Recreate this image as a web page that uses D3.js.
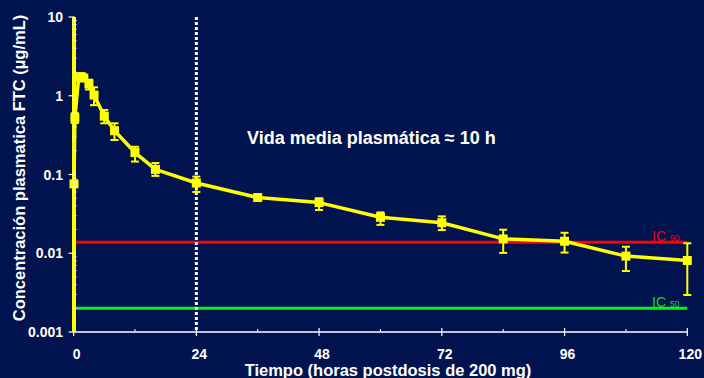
<!DOCTYPE html>
<html>
<head>
<meta charset="utf-8">
<script src="https://cdn.jsdelivr.net/npm/d3@7"></script>
<style>
  html, body { margin: 0; padding: 0; background: #02144f; }
  svg { display: block; font-family: "Liberation Sans", Arial, sans-serif; }
</style>
</head>
<body>
<svg id="chart" width="704" height="378"></svg>
<script>
// Mean FTC plasma concentration after a single 200 mg dose
const times  = [0.08, 0.25, 1, 1.5, 2, 3, 4, 6, 8, 12, 16, 24, 36, 48, 60, 72, 84, 96, 108, 120];
const conc   = [0.076, 0.52, 1.73, 1.75, 1.68, 1.41, 1.02, 0.55, 0.36, 0.19, 0.116, 0.078, 0.051, 0.044, 0.0286, 0.0244, 0.0152, 0.0142, 0.0092, 0.0081];
const errHi  = [10, 0.6, 1.85, 1.88, 1.8, 1.6, 1.28, 0.66, 0.447, 0.225, 0.14, 0.094, 0.054, 0.05, 0.033, 0.0294, 0.0199, 0.0182, 0.0121, 0.0134];
const errLo  = [0.001, 0.45, 1.6, 1.62, 1.55, 1.2, 0.76, 0.447, 0.274, 0.146, 0.096, 0.06, 0.048, 0.0354, 0.0229, 0.0197, 0.0101, 0.0102, 0.00595, 0.00295];

const xTicks = [0, 24, 48, 72, 96, 120];
const xMinor = [12, 36, 60, 84, 108];
const yTicks = [10, 1, 0.1, 0.01, 0.001];
const yTickLabels = ["10", "1", "0.1", "0.01", "0.001"];

const ic90 = 0.0138;
const ic50 = 0.002;
const halfLifeMark = 24;

const svg = d3.select("#chart");
const x = d3.scaleLinear().domain([0, 120]).range([73.6, 687.3]);
const y = d3.scaleLog().domain([0.001, 10]).range([332, 17]);

const yellow = "#ffff00";
const white = "#ffffff";

// reference lines IC90 / IC50
svg.append("line")
  .attr("x1", x(0)).attr("x2", x(120))
  .attr("y1", y(ic90)).attr("y2", y(ic90))
  .attr("stroke", "#ff0000").attr("stroke-width", 3);
svg.append("line")
  .attr("x1", x(0)).attr("x2", x(120))
  .attr("y1", y(ic50)).attr("y2", y(ic50))
  .attr("stroke", "#11ee11").attr("stroke-width", 3);

// dotted marker at 24 h
svg.append("line")
  .attr("x1", x(halfLifeMark)).attr("x2", x(halfLifeMark))
  .attr("y1", y(10)).attr("y2", y(0.001))
  .attr("stroke", white).attr("stroke-width", 3)
  .attr("stroke-dasharray", "3,2");

// axes (white)
const xAxisG = svg.append("g").attr("transform", `translate(0,${y(0.001)})`);
xAxisG.append("line").attr("x1", x(0)).attr("x2", x(120)).attr("stroke", white).attr("stroke-width", 1.5);
xAxisG.selectAll("line.maj").data(xTicks).join("line")
  .attr("x1", d => x(d)).attr("x2", d => x(d)).attr("y1", -4).attr("y2", 4)
  .attr("stroke", white).attr("stroke-width", 1.2);
xAxisG.selectAll("line.min").data(xMinor).join("line")
  .attr("x1", d => x(d)).attr("x2", d => x(d)).attr("y1", -3).attr("y2", 0)
  .attr("stroke", white).attr("stroke-width", 1);
xAxisG.selectAll("text").data(xTicks).join("text")
  .attr("x", d => x(d) + 3).attr("y", 27)
  .attr("text-anchor", "middle").attr("fill", white)
  .attr("font-size", 14).attr("font-weight", "bold")
  .text(d => d);

// y axis line sits under the series (the first point's error bar overlays it)
svg.append("line")
  .attr("x1", x(0)).attr("x2", x(0)).attr("y1", y(10)).attr("y2", y(0.001))
  .attr("stroke", white).attr("stroke-width", 1.5);

// error bars
const pts = times.map((t, i) => ({ t, v: conc[i], hi: errHi[i], lo: errLo[i] }));
const eb = svg.append("g");
eb.selectAll("line.stem").data(pts).join("line")
  .attr("x1", d => x(d.t)).attr("x2", d => x(d.t))
  .attr("y1", d => y(d.hi)).attr("y2", d => y(d.lo))
  .attr("stroke", yellow).attr("stroke-width", (d, i) => i === 0 ? 4 : 2);
eb.selectAll("line.capHi").data(pts.slice(1)).join("line")
  .attr("x1", d => x(d.t) - 4).attr("x2", d => x(d.t) + 4)
  .attr("y1", d => y(d.hi)).attr("y2", d => y(d.hi))
  .attr("stroke", yellow).attr("stroke-width", 2);
eb.selectAll("line.capLo").data(pts.slice(1)).join("line")
  .attr("x1", d => x(d.t) - 4).attr("x2", d => x(d.t) + 4)
  .attr("y1", d => y(d.lo)).attr("y2", d => y(d.lo))
  .attr("stroke", yellow).attr("stroke-width", 2);

// mean concentration line
svg.append("path").datum(pts)
  .attr("d", d3.line().x(d => x(d.t)).y(d => y(d.v)))
  .attr("fill", "none").attr("stroke", yellow).attr("stroke-width", 3.5)
  .attr("stroke-linejoin", "round");

// square markers
svg.append("g").selectAll("rect").data(pts).join("rect")
  .attr("x", d => x(d.t) - 4.5).attr("y", d => y(d.v) - 4.5)
  .attr("width", 9).attr("height", 9).attr("fill", yellow);

// y ticks drawn on top
const yAxisG = svg.append("g");
yAxisG.selectAll("line.maj").data(yTicks).join("line")
  .attr("x1", x(0) - 5).attr("x2", x(0) + 1)
  .attr("y1", d => y(d)).attr("y2", d => y(d))
  .attr("stroke", white).attr("stroke-width", 1.2);
const minorY = [];
[0.001, 0.01, 0.1, 1].forEach(dec => { for (let k = 2; k <= 9; k++) minorY.push(dec * k); });
yAxisG.selectAll("line.min").data(minorY).join("line")
  .attr("x1", x(0) - 1).attr("x2", x(0) + 3)
  .attr("y1", d => y(d)).attr("y2", d => y(d))
  .attr("stroke", white).attr("stroke-width", 1);
yAxisG.selectAll("text").data(yTicks).join("text")
  .attr("x", 63).attr("y", d => y(d) + 5)
  .attr("text-anchor", "end").attr("fill", white)
  .attr("font-size", 14).attr("font-weight", "bold")
  .text((d, i) => yTickLabels[i]);

// axis titles
svg.append("text")
  .attr("x", 388).attr("y", 376)
  .attr("text-anchor", "middle").attr("fill", white)
  .attr("font-size", 16.5).attr("font-weight", "bold")
  .text("Tiempo (horas postdosis de 200 mg)");
svg.append("text")
  .attr("transform", "translate(25,168) rotate(-90)")
  .attr("text-anchor", "middle").attr("fill", white)
  .attr("font-size", 16.5).attr("font-weight", "bold")
  .text("Concentración plasmatica FTC (µg/mL)");

// annotation
svg.append("text")
  .attr("x", 247).attr("y", 144)
  .attr("fill", white).attr("font-size", 18).attr("font-weight", "bold")
  .text("Vida media plasmática ≈ 10 h");

// IC labels
function icLabel(val, sub, color) {
  const t = svg.append("text")
    .attr("x", 652).attr("y", y(val) - 1)
    .attr("fill", color).attr("font-size", 14);
  t.append("tspan").text("IC");
  t.append("tspan").attr("dx", 4).attr("font-size", 8.5).text(sub);
}
icLabel(ic90, "90", "#ff0000");
icLabel(ic50, "50", "#11dd11");
</script>
</body>
</html>
